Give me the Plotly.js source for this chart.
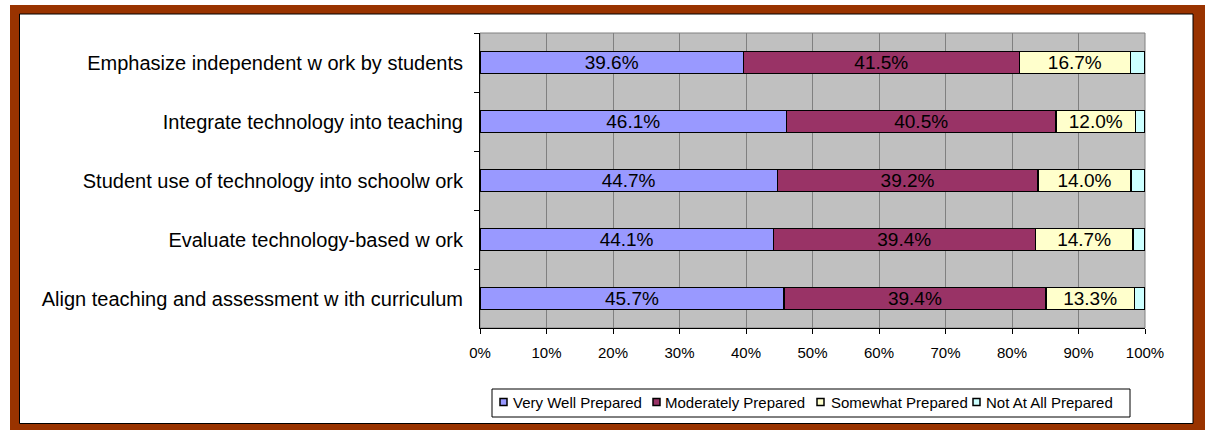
<!DOCTYPE html>
<html>
<head>
<meta charset="utf-8">
<script src="https://cdn.plot.ly/plotly-3.0.1.min.js"></script>
<style>
html,body{margin:0;padding:0;background:#ffffff;}
#chart{width:1205px;height:430px;}
</style>
</head>
<body>
<div id="chart"></div>
<script>
// ---- data ----
const categories = [
  "Emphasize independent w ork by students",
  "Integrate technology into teaching",
  "Student use of technology into schoolw ork",
  "Evaluate technology-based w ork",
  "Align teaching and assessment w ith curriculum"
];
const seriesNames = ["Very Well Prepared", "Moderately Prepared", "Somewhat Prepared", "Not At All Prepared"];
const veryWell   = [39.6, 46.1, 44.7, 44.1, 45.7];
const moderately = [41.5, 40.5, 39.2, 39.4, 39.4];
const somewhat   = [16.7, 12.0, 14.0, 14.7, 13.3];
const notAtAll   = [2.2, 1.4, 2.1, 1.8, 1.6];
const xTickVals  = [0, 10, 20, 30, 40, 50, 60, 70, 80, 90, 100];

// ---- styling ----
const colors = ["#9999FF", "#993366", "#FFFFCC", "#CCFFFF"];
const showLabels = [true, true, true, false];
const seriesValues = [veryWell, moderately, somewhat, notAtAll];
const FONT = "Liberation Sans, Arial, sans-serif";

// plot area in pixels
const L = 480, R = 1145, T = 33, B = 328;
const px = x => (x - L) / (R - L);
const py = y => (B - y) / (B - T);

// legend geometry (pixels)
const legendBox = { x0: 492, x1: 1130, y0: 389, y1: 417 };
const legendSymbolX = [500, 653, 817, 973];
const legendTextX = [513, 664.5, 830.5, 986];
const legendMidY = 402;

const traces = seriesNames.map((name, i) => ({
  type: "bar",
  orientation: "h",
  name: name,
  y: categories,
  x: seriesValues[i],
  marker: { color: colors[i], line: { color: "#000000", width: 1.5 } },
  text: showLabels[i] ? seriesValues[i].map(v => v.toFixed(1) + "%") : null,
  texttemplate: showLabels[i] ? "%{text}" : "",
  textposition: showLabels[i] ? "inside" : "none",
  insidetextanchor: "middle",
  constraintext: "none",
  textfont: { family: FONT, size: 19, color: "#000000" },
  hoverinfo: "name+x"
}));

const shapes = [
  { type: "rect", xref: "paper", yref: "paper", layer: "below",
    x0: px(10), x1: px(1205), y0: py(430), y1: py(5),
    fillcolor: "#993300", line: { width: 0 } },
  { type: "rect", xref: "paper", yref: "paper", layer: "below",
    x0: px(19.5), x1: px(1193), y0: py(423.5), y1: py(14),
    fillcolor: "#ffffff", line: { color: "#000000", width: 1 } },
  { type: "rect", xref: "paper", yref: "paper", layer: "below",
    x0: 0, x1: 1, y0: 0, y1: 1,
    fillcolor: "#C0C0C0", line: { color: "#808080", width: 1 } },
  { type: "rect", xref: "paper", yref: "paper", layer: "below",
    x0: px(legendBox.x0), x1: px(legendBox.x1), y0: py(legendBox.y1), y1: py(legendBox.y0),
    fillcolor: "#ffffff", line: { color: "#000000", width: 1 } }
];
const annotations = [];
seriesNames.forEach((name, i) => {
  shapes.push({ type: "rect", xref: "paper", yref: "paper", layer: "above",
    x0: px(legendSymbolX[i]), x1: px(legendSymbolX[i] + 7),
    y0: py(legendMidY + 3.5), y1: py(legendMidY - 3.5),
    fillcolor: colors[i], line: { color: "#000000", width: 1.5 } });
  annotations.push({ xref: "paper", yref: "paper", showarrow: false,
    x: px(legendTextX[i] - 2), xanchor: "left",
    y: py(legendMidY), yanchor: "middle",
    text: name, font: { family: FONT, size: 15, color: "#000000" } });
});

const layout = {
  width: 1205,
  height: 430,
  margin: { l: L, r: 1205 - R, t: T, b: 430 - B, pad: 0 },
  paper_bgcolor: "#ffffff",
  plot_bgcolor: "#C0C0C0",
  barmode: "stack",
  bargap: 0.62,
  font: { family: FONT, color: "#000000" },
  showlegend: false,
  xaxis: {
    range: [0, 100],
    tickvals: xTickVals,
    ticktext: xTickVals.map(v => v + "%"),
    ticks: "outside",
    ticklen: 5,
    tickcolor: "#000000",
    ticklabelstandoff: 6,
    tickfont: { family: FONT, size: 15, color: "#000000" },
    showgrid: true,
    gridcolor: "#808080",
    gridwidth: 1,
    zeroline: false,
    showline: true,
    linecolor: "#000000",
    linewidth: 1,
    fixedrange: true
  },
  yaxis: {
    type: "category",
    autorange: "reversed",
    ticks: "outside",
    tickson: "boundaries",
    ticklen: 5,
    tickcolor: "#000000",
    ticklabelstandoff: 12,
    tickfont: { family: FONT, size: 20, color: "#000000" },
    showgrid: false,
    zeroline: false,
    showline: true,
    linecolor: "#000000",
    linewidth: 1,
    fixedrange: true
  },
  shapes: shapes,
  annotations: annotations
};

Plotly.newPlot("chart", traces, layout, { displayModeBar: false, staticPlot: true });
</script>
</body>
</html>
